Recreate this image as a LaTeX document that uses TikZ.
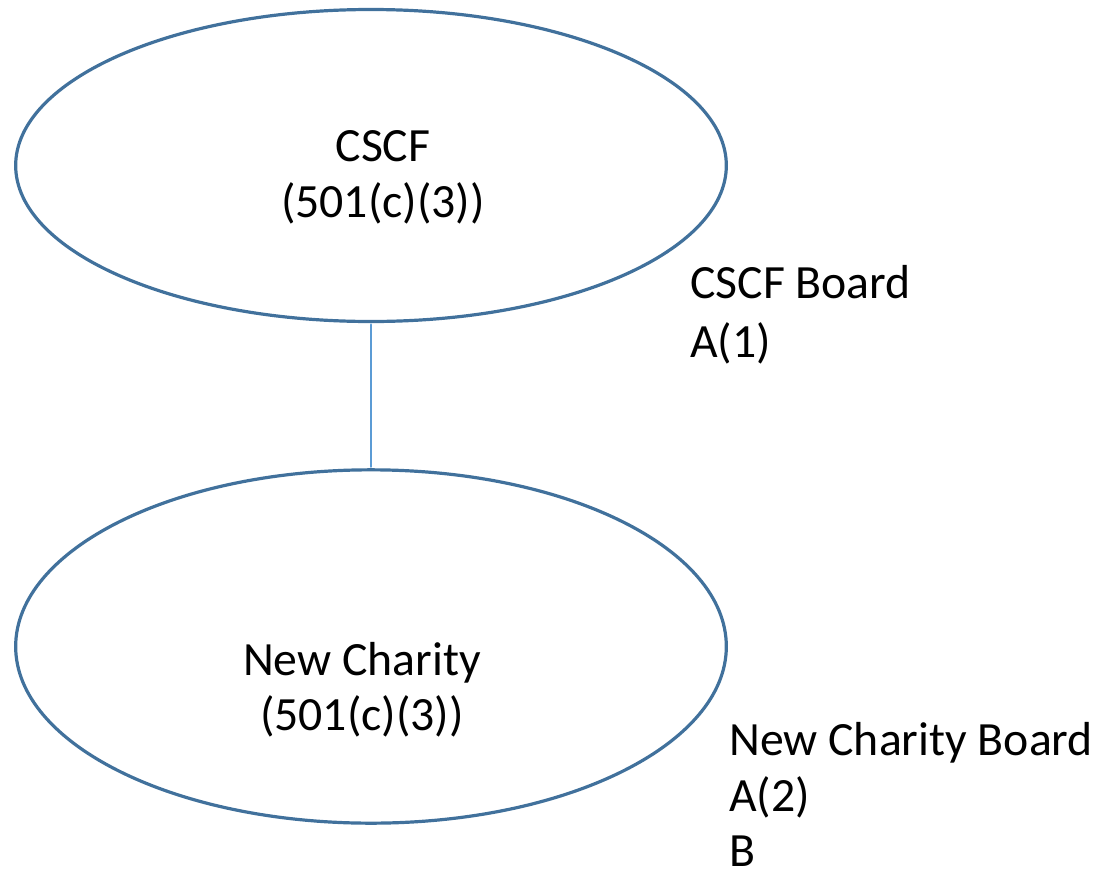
\documentclass[tikz,border=0pt]{standalone}
\usepackage{fontspec}
\setmainfont{Carlito}
\usetikzlibrary{shapes.geometric}
\definecolor{ovalblue}{HTML}{41719C}
\definecolor{linkblue}{HTML}{5B9BD5}
\begin{document}
\begin{tikzpicture}[line cap=round,line join=round,x=0.75pt,y=-0.75pt,
  oval/.style={ellipse,draw=ovalblue,line width=2.4pt,minimum width=533pt,inner sep=0pt},
  lbl/.style={inner sep=0pt,font=\fontsize{35.8}{43}\selectfont}]
\useasboundingbox (0,0) rectangle (1097,871);
\node[oval,minimum height=234pt] (cscf) at (371,165.5) {};
\node[oval,minimum height=265pt] (newch) at (371,646.5) {};
\draw[linkblue,line width=2.2pt,shorten <=1.2pt,shorten >=1.2pt] (cscf.south) -- (newch.north);
\node[lbl,anchor=base] (cscfname) at (383,161) {CSCF};
\node[lbl,anchor=base] (cscftype) at (383,217) {(501(c)(3))};
\node[lbl,anchor=base] (newname) at (362,675) {New Charity};
\node[lbl,anchor=base] (newtype) at (362,730) {(501(c)(3))};
\node[lbl,anchor=base west] (cscfboard) at (690,298) {CSCF Board};
\node[lbl,anchor=base west] (cscfa) at (690,357) {A(1)};
\node[lbl,anchor=base west] (newboard) at (729,755) {New Charity Board};
\node[lbl,anchor=base west] (newa) at (729,811) {A(2)};
\node[lbl,anchor=base west] (newb) at (729,866) {B};
\end{tikzpicture}
\end{document}
